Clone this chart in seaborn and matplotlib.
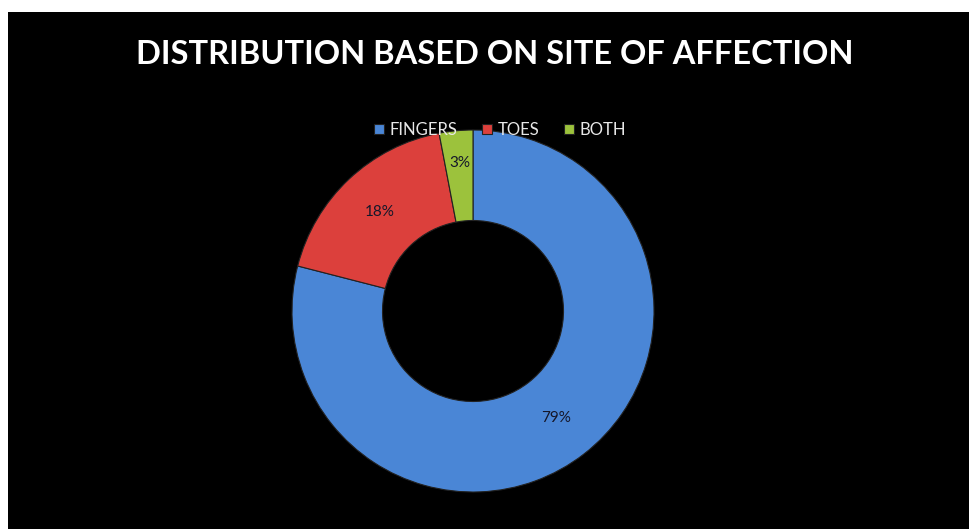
import matplotlib
matplotlib.use("Agg")
import matplotlib.pyplot as plt
from matplotlib.patches import Rectangle
import seaborn as sns

categories = ["FINGERS", "TOES", "BOTH"]
values = [79, 18, 3]
title = "DISTRIBUTION BASED ON SITE OF AFFECTION"

sns.set_theme(style="white")
plt.rcParams['font.family'] = ['Lato', 'DejaVu Sans']

colors = sns.color_palette(["#4A86D6", "#DC403C", "#9CC23C"])

W, H = 969, 529
fig = plt.figure(figsize=(W / 100, H / 100), dpi=100, facecolor="white")
fig.patches.append(Rectangle((8 / W, 0), 1, (H - 12) / H, transform=fig.transFigure,
                             facecolor="black", edgecolor="none", zorder=-10))

cx, cy, r = 473, H - 311, 181
ax = fig.add_axes([(cx - r) / W, (cy - r) / H, 2 * r / W, 2 * r / H])
ax.set_facecolor("none")

wedges, texts, autotexts = ax.pie(
    values, colors=colors, startangle=90, counterclock=False,
    autopct=lambda p: f"{p:.0f}%", pctdistance=0.75,
    wedgeprops=dict(width=0.5, edgecolor="#222222", linewidth=0.8),
    textprops=dict(color="#15172a", fontsize=11))
autotexts[2].set_y(autotexts[2].get_position()[1] + 0.07)
ax.set_xlim(-1, 1)
ax.set_ylim(-1, 1)
ax.axis("off")

fig.text(495 / W, 1 - 55 / H, title, color="white", fontsize=23.5, fontweight="bold",
         ha="center", va="center")

leg = fig.legend(wedges, categories, loc="center", bbox_to_anchor=(500 / W, 1 - 130 / H),
                 ncol=3, frameon=False, fontsize=12, labelcolor="#e8e8e8",
                 handlelength=0.6, handleheight=0.6, handletextpad=0.3, columnspacing=1.5)

fig.savefig("out.png", dpi=100, facecolor=fig.get_facecolor())
